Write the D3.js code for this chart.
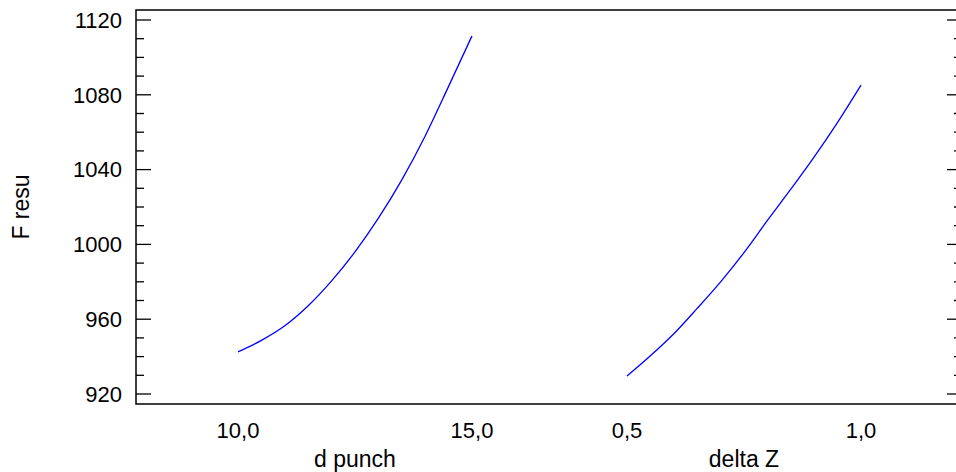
<!DOCTYPE html>
<html><head><meta charset="utf-8">
<script src="https://cdn.jsdelivr.net/npm/d3@7"></script>
<style>
html,body{margin:0;padding:0;background:#fff;overflow:hidden}
text{font-family:"Liberation Sans",Arial,sans-serif;fill:#000}
</style></head><body>
<svg id="chart" width="956" height="472"></svg>
<script>
// ---- data ----
const factorNames = ["d punch", "delta Z"];
const dPunchX = [10, 10.5, 11, 11.5, 12, 12.5, 13, 13.5, 14, 14.5, 15];
const dPunchY = [942.5, 948.7, 956.5, 967.2, 980.5, 996, 1014, 1034.5, 1058, 1084.5, 1111.5];
const deltaZX = [0.5, 0.55, 0.6, 0.65, 0.7, 0.75, 0.8, 0.85, 0.9, 0.95, 1.0];
const deltaZY = [929.6, 940.4, 952.2, 965.8, 980, 995.6, 1012.8, 1029.5, 1046.8, 1065.3, 1085.2];
const dPunchTicks = [10.0, 15.0];
const deltaZTicks = [0.5, 1.0];
const yMajorTicks = [920, 960, 1000, 1040, 1080, 1120];
const yMinorTicks = d3.range(920, 1121, 10);
const yLabel = "F resu";

// ---- layout ----
const svg = d3.select("#chart");
const frame = {left:136, right:962, top:10, bottom:404};
const y = d3.scaleLinear().domain([920, 1120]).range([394, 20]);
const xPanels = [
  {name: factorNames[0], xs: dPunchX, ys: dPunchY, ticks: dPunchTicks,
   scale: d3.scaleLinear().domain([10, 15]).range([238, 472])},
  {name: factorNames[1], xs: deltaZX, ys: deltaZY, ticks: deltaZTicks,
   scale: d3.scaleLinear().domain([0.5, 1.0]).range([627, 861])}
];
const fmt = v => d3.format(".1f")(v).replace(".", ",");

// frame
svg.append("rect")
  .attr("x", frame.left).attr("y", frame.top)
  .attr("width", frame.right - frame.left).attr("height", frame.bottom - frame.top)
  .attr("fill", "none").attr("stroke", "#000").attr("stroke-width", 1.5);

// y ticks left and right
const gy = svg.append("g");
[[frame.left, 1], [frame.right, -1]].forEach(([x0, dir]) => {
  gy.selectAll(null).data(yMinorTicks).enter().append("line")
    .attr("x1", x0).attr("x2", d => x0 + dir * (yMajorTicks.includes(d) ? 15 : 8))
    .attr("y1", d => y(d)).attr("y2", d => y(d))
    .attr("stroke", "#000").attr("stroke-width", 1.3);
});
gy.selectAll(null).data(yMajorTicks).enter().append("text")
  .attr("x", 122).attr("y", d => y(d))
  .attr("dy", "0.35em").attr("text-anchor", "end")
  .style("font-size", "22px").text(d => d);

svg.append("text")
  .attr("transform", `translate(29,${(frame.top + frame.bottom) / 2}) rotate(-90)`)
  .attr("text-anchor", "middle").style("font-size", "23px").text(yLabel);

// panels
const line = d3.line().curve(d3.curveMonotoneX);
xPanels.forEach(p => {
  const pts = p.xs.map((v, i) => [p.scale(v), y(p.ys[i])]);
  svg.append("path").attr("d", line(pts))
    .attr("fill", "none").attr("stroke", "#0000ff").attr("stroke-width", 1.3);
  svg.selectAll(null).data(p.ticks).enter().append("text")
    .attr("x", d => p.scale(d)).attr("y", 438)
    .attr("text-anchor", "middle").style("font-size", "22px").text(d => fmt(d));
  const [r0, r1] = p.scale.range();
  svg.append("text").attr("x", (r0 + r1) / 2).attr("y", 467)
    .attr("text-anchor", "middle").style("font-size", "23px").text(p.name);
});
</script>
</body></html>
